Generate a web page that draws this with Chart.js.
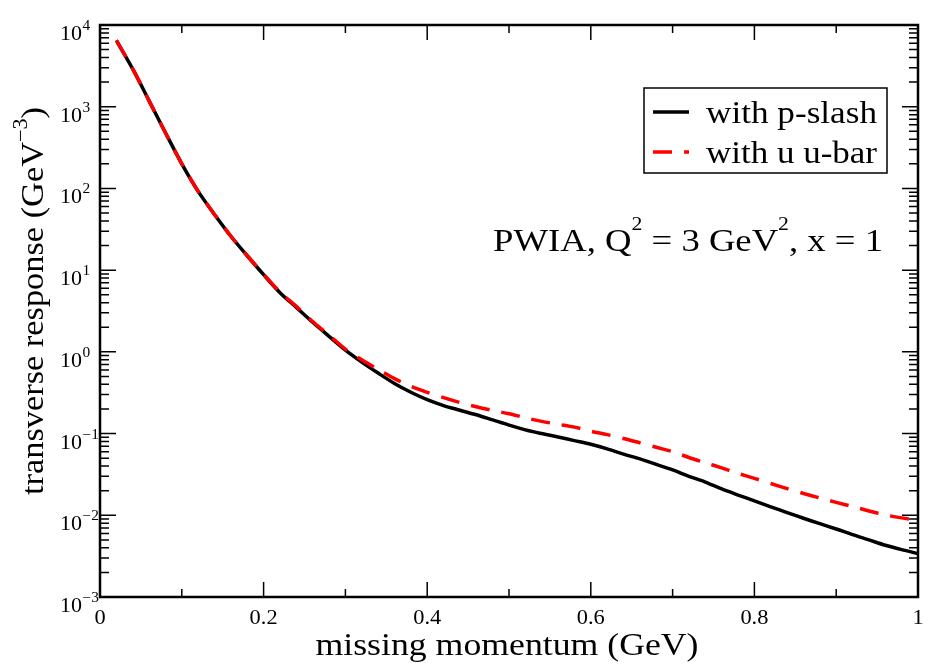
<!DOCTYPE html>
<html>
<head>
<meta charset="utf-8">
<script src="https://cdn.jsdelivr.net/npm/chart.js@4.4.1/dist/chart.umd.min.js"></script>
<style>
  body { margin: 0; background: #fff; }
  #wrap { width: 929px; height: 669px; }
</style>
</head>
<body>
<div id="wrap"><canvas id="chart" width="929" height="669"></canvas></div>
<script>
// missing momentum (GeV)
const momentum = [0.02, 0.04, 0.06, 0.08, 0.10, 0.12, 0.14, 0.16, 0.18, 0.20,
                  0.22, 0.24, 0.26, 0.28, 0.30, 0.32, 0.34, 0.36, 0.38, 0.40,
                  0.42, 0.44, 0.46, 0.48, 0.50, 0.52, 0.54, 0.56, 0.58, 0.60,
                  0.62, 0.64, 0.66, 0.68, 0.70, 0.72, 0.74, 0.76, 0.78, 0.80,
                  0.82, 0.84, 0.86, 0.88, 0.90, 0.92, 0.94, 0.96, 0.98, 1.00];

// transverse response, "with p-slash"
const pSlash = [6500, 2900, 1180, 480, 200, 92, 48, 26, 15, 8.8,
                5.3, 3.5, 2.3, 1.55, 1.05, 0.75, 0.55, 0.41, 0.32, 0.26,
                0.22, 0.193, 0.17, 0.147, 0.127, 0.111, 0.1, 0.091, 0.082, 0.074,
                0.065, 0.056, 0.049, 0.042, 0.036, 0.030, 0.0255, 0.021, 0.0177, 0.015,
                0.0127, 0.0108, 0.0092, 0.0079, 0.0068, 0.0058, 0.005, 0.0043, 0.0038, 0.0034];

// transverse response, "with u u-bar"
const uBar = [6500, 2900, 1180, 480, 200, 92, 48, 26, 15, 8.9,
              5.4, 3.6, 2.35, 1.6, 1.08, 0.8, 0.61, 0.47, 0.38, 0.32,
              0.275, 0.24, 0.213, 0.192, 0.175, 0.156, 0.141, 0.13, 0.12, 0.107,
              0.097, 0.087, 0.077, 0.068, 0.06, 0.051, 0.044, 0.038, 0.0325, 0.0283,
              0.0245, 0.0212, 0.0185, 0.0163, 0.0144, 0.0128, 0.0113, 0.0101, 0.0093, 0.0087];

const xMajor = [0, 0.2, 0.4, 0.6, 0.8, 1];
const xMinor = [0.1, 0.3, 0.5, 0.7, 0.9];
const xLabels = ['0', '0.2', '0.4', '0.6', '0.8', '1'];
const yExponents = [-3, -2, -1, 0, 1, 2, 3, 4];

const legendNames = ['with p-slash', 'with u u-bar'];
const xTitle = 'missing momentum (GeV)';
const FONT = '"Liberation Serif", "Times New Roman", serif';

// draw text runs ([text, isSuperscript]) with a horizontal stretch to reach a given width
function drawRuns(ctx, runs, x, y, opt) {
    const size = opt.size, sup = opt.supSize || size * 0.6, rise = opt.rise || size * 0.45;
    ctx.save();
    ctx.translate(x, y);
    if (opt.rotate) ctx.rotate(opt.rotate);
    let w = 0;
    const widths = runs.map(([t, s]) => {
        ctx.font = (s ? sup : size) + 'px ' + FONT;
        const m = ctx.measureText(t).width;
        w += m;
        return m;
    });
    const sx = opt.width ? opt.width / w : (opt.stretch || 1);
    ctx.scale(sx, 1);
    let cx = opt.align === 'center' ? -w / 2 : opt.align === 'right' ? -w : 0;
    ctx.fillStyle = '#000';
    ctx.textBaseline = 'alphabetic';
    ctx.textAlign = 'left';
    runs.forEach(([t, s], i) => {
        ctx.font = (s ? sup : size) + 'px ' + FONT;
        ctx.fillText(t, cx, s ? -rise : 0);
        cx += widths[i];
    });
    ctx.restore();
}

const framePlugin = {
    id: 'frame',
    afterDatasetsDraw(chart) {
        const ctx = chart.ctx, a = chart.chartArea;
        const xs = chart.scales.x, ys = chart.scales.y;
        ctx.save();
        ctx.strokeStyle = '#000';

        // ticks, pointing inward on all four sides
        ctx.lineWidth = 1.5;
        ctx.beginPath();
        const xTick = (v, len) => {
            const px = xs.getPixelForValue(v);
            ctx.moveTo(px, a.bottom); ctx.lineTo(px, a.bottom - len);
            ctx.moveTo(px, a.top); ctx.lineTo(px, a.top + len);
        };
        const yTick = (v, len) => {
            const py = ys.getPixelForValue(v);
            ctx.moveTo(a.left, py); ctx.lineTo(a.left + len, py);
            ctx.moveTo(a.right, py); ctx.lineTo(a.right - len, py);
        };
        xMajor.forEach(v => xTick(v, 15));
        xMinor.forEach(v => xTick(v, 8));
        yExponents.forEach(e => {
            yTick(Math.pow(10, e), 16);
            if (e < 4) for (let m = 2; m <= 9; m++) yTick(m * Math.pow(10, e), 9);
        });
        ctx.stroke();

        // frame
        ctx.lineWidth = 2.5;
        ctx.strokeRect(a.left, a.top, a.right - a.left, a.bottom - a.top);
        ctx.restore();
    },
    afterDraw(chart) {
        const ctx = chart.ctx;
        const xs = chart.scales.x, ys = chart.scales.y;

        // tick labels
        xMajor.forEach((v, i) => {
            drawRuns(ctx, [[xLabels[i], false]], xs.getPixelForValue(v), 624, { size: 20, stretch: 1.12, align: 'center' });
        });
        yExponents.forEach(e => {
            const py = ys.getPixelForValue(Math.pow(10, e));
            drawRuns(ctx, [['10', false]], 82, py + 15, { size: 20, stretch: 1.1, align: 'right' });
            drawRuns(ctx, [[String(e).replace('-', '\u2212'), false]], 82.5, py + 5, { size: 14, stretch: 1.1 });
        });

        // axis titles
        drawRuns(ctx, [[xTitle, false]], 507, 655, { size: 31, width: 383, align: 'center' });
        drawRuns(ctx, [['transverse response (GeV', false], ['\u22123', true], [')', false]], 43, 301,
                 { size: 31, supSize: 20, rise: 16, width: 388, align: 'center', rotate: -Math.PI / 2 });

        // annotation
        drawRuns(ctx, [['PWIA, Q', false], ['2', true], [' = 3 GeV', false], ['2', true], [', x = 1', false]], 493, 251,
                 { size: 32, supSize: 19, rise: 21, width: 390 });

        // legend
        ctx.save();
        ctx.strokeStyle = '#000';
        ctx.lineWidth = 1.5;
        ctx.strokeRect(644, 88, 243, 85);
        ctx.lineWidth = 3.5;
        ctx.beginPath(); ctx.moveTo(653, 112); ctx.lineTo(689, 112); ctx.stroke();
        ctx.strokeStyle = '#ff0000';
        ctx.setLineDash([19, 12]);
        ctx.beginPath(); ctx.moveTo(653, 152); ctx.lineTo(689, 152); ctx.stroke();
        ctx.restore();
        drawRuns(ctx, [[legendNames[0], false]], 706, 123, { size: 32, width: 171 });
        drawRuns(ctx, [[legendNames[1], false]], 706, 163, { size: 32, width: 171 });
    }
};

new Chart(document.getElementById('chart'), {
    type: 'line',
    data: {
        datasets: [
            {
                label: legendNames[0],
                data: momentum.map((x, i) => ({ x: x, y: pSlash[i] })),
                borderColor: '#000',
                borderWidth: 3.5,
                pointRadius: 0,
                tension: 0.3,
                order: 2
            },
            {
                label: legendNames[1],
                data: momentum.map((x, i) => ({ x: x, y: uBar[i] })),
                borderColor: '#ff0000',
                borderWidth: 3.5,
                borderDash: [19, 12],
                pointRadius: 0,
                tension: 0.3,
                order: 1
            }
        ]
    },
    options: {
        responsive: false,
        animation: false,
        devicePixelRatio: 1,
        layout: { padding: { left: 0, right: 11, top: 25, bottom: 0 } },
        plugins: { legend: { display: false }, tooltip: { enabled: false } },
        scales: {
            x: {
                type: 'linear', min: 0, max: 1,
                grid: { display: false }, border: { display: false },
                ticks: { display: false },
                afterFit(s) { s.height = 72; }
            },
            y: {
                type: 'logarithmic', min: 1e-3, max: 1e4,
                grid: { display: false }, border: { display: false },
                ticks: { display: false },
                afterFit(s) { s.width = 100; }
            }
        }
    },
    plugins: [framePlugin]
});
</script>
</body>
</html>
